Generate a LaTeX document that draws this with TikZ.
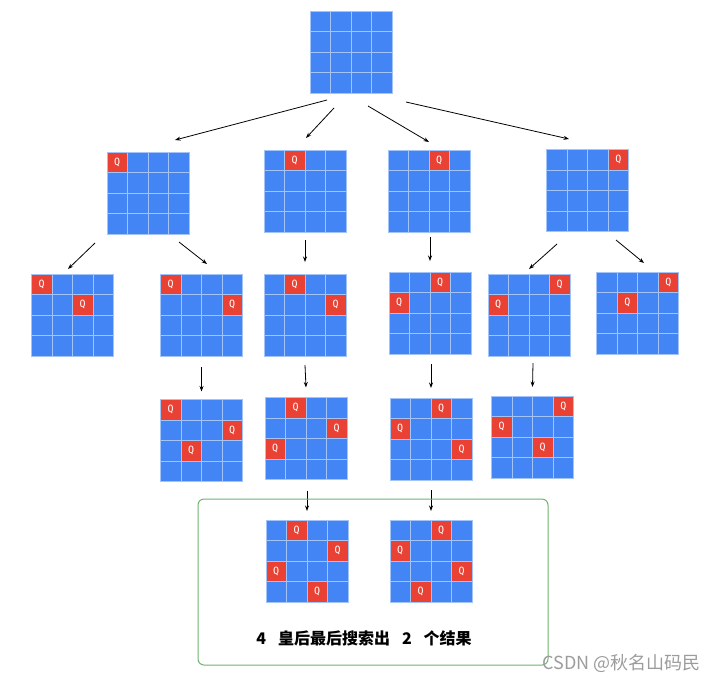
\documentclass[tikz,border=0pt]{standalone}
\usepackage{fontspec}
\setmainfont{DejaVu Sans}
\setmonofont{DejaVu Sans Mono}
\newfontfamily\cjk{Noto Sans CJK SC}
\usetikzlibrary{positioning,calc,arrows.meta}
\definecolor{qblue}{HTML}{4385F4}
\definecolor{qred}{HTML}{E94235}
\definecolor{qgrid}{HTML}{A3C4F9}
\definecolor{boxgreen}{HTML}{6DB36D}
\definecolor{wmgray}{HTML}{9C9C9C}
\def\cell{20.5}

\tikzset{
  board/.style={fill=qblue,minimum size=82pt,inner sep=0pt,outer sep=0pt},
  gridline/.style={qgrid,line width=0.8pt},
  qmark/.style={text=white,inner sep=0pt,font=\ttfamily\fontsize{10}{10}\selectfont},
  arr/.style={-{Stealth[length=5.5pt,width=4pt]},line width=0.8pt}
}

% 4x4 board: [queens as row/col] name, centre
\newcommand{\qboard}[3][]{%
  \node[board] (#2) at (#3) {};
  \ifx\relax#1\relax\else
    \foreach \qr/\qc in {#1}{
      \fill[qred] ($(#2.north west)+(\qc*\cell,\qr*\cell)$) rectangle ++(\cell,\cell);
      \node[qmark] at ($(#2.north west)+(\qc*\cell+\cell/2,\qr*\cell+\cell/2)$) {Q};
    }
  \fi
  \foreach \i in {1,2,3}{
    \draw[gridline] ($(#2.north west)+(\i*\cell,0)$) -- ++(0,82);
    \draw[gridline] ($(#2.north west)+(0,\i*\cell)$) -- ++(82,0);
  }
  \draw[gridline] (#2.north west) rectangle (#2.south east);
}

\begin{document}
\begin{tikzpicture}[x=1pt,y=-1pt]
  \useasboundingbox (0,0) rectangle (719,681);
  % root
  \qboard{root}{351,52}
  % first queen
  \qboard[0/0]{A}{148,193}
  \qboard[0/1]{B}{305,191}
  \qboard[0/2]{C}{429,191}
  \qboard[0/3]{D}{587.5,190.5}
  % second queen
  \qboard[0/0,1/2]{Aa}{72.5,315}
  \qboard[0/0,1/3]{Ab}{201.5,315}
  \qboard[0/1,1/3]{Ba}{305,315}
  \qboard[0/2,1/0]{Ca}{430,313}
  \qboard[0/3,1/0]{Da}{529,315}
  \qboard[0/3,1/1]{Db}{637.5,313}
  % third queen
  \qboard[0/0,1/3,2/1]{Abx}{201.5,440.5}
  \qboard[0/1,1/3,2/0]{Bax}{306,438.5}
  \qboard[0/2,1/0,2/3]{Cax}{431,439}
  \qboard[0/3,1/0,2/2]{Dax}{532.5,437}
  % solutions
  \qboard[0/1,1/3,2/0,3/2]{solA}{307,561}
  \qboard[0/2,1/0,2/3,3/1]{solB}{431,561}

  \draw[arr] ($(root.south)+(-24,7)$) -- ($(A.north)+(27,-12)$);
  \draw[arr] ($(root.south)+(-17,15)$) -- ($(B.north)+(1,-12)$);
  \draw[arr] ($(root.south)+(17,13)$) -- ($(C.north)+(0,-8)$);
  \draw[arr] ($(root.south)+(55,9)$) -- ($(D.north)+(-18.5,-10.5)$);
  \draw[arr] ($(A.south)+(-53,9)$) -- ($(Aa.north)+(-4.5,-5)$);
  \draw[arr] ($(A.south)+(31,8)$) -- ($(Ab.north)+(5.5,-10)$);
  \draw[arr] ($(B.south)+(0,8)$) -- ($(Ba.north)+(0,-12)$);
  \draw[arr] ($(C.south)+(1,5)$) -- ($(Ca.north)+(0,-11)$);
  \draw[arr] ($(D.south)+(-30.5,12.5)$) -- ($(Da.north)+(0,-5)$);
  \draw[arr] ($(D.south)+(28.5,8.5)$) -- ($(Db.north)+(6.5,-9)$);
  \draw[arr] ($(Ab.south)+(0,11)$) -- ($(Abx.north)+(0,-8)$);
  \draw[arr] ($(Ba.south)+(0,9)$) -- ($(Bax.north)+(0,-10)$);
  \draw[arr] ($(Ca.south)+(1,10)$) -- ($(Cax.north)+(0,-10)$);
  \draw[arr] ($(Da.south)+(4,7)$) -- ($(Dax.north)+(0,-9)$);
  \draw[arr] ($(Bax.south)+(1,11)$) -- ($(solA.north)+(0,-9)$);
  \draw[arr] ($(Cax.south)+(0,10)$) -- ($(solB.north)+(0,-9)$);

  \draw[boxgreen,line width=1pt,rounded corners=6pt] (198,499) rectangle (548,665);
  \node[font=\cjk\bfseries\fontsize{16}{16}\selectfont] (result) at (364,638)
    {4\hspace{12pt}皇后最后搜索出\hspace{12pt}2\hspace{12pt}个结果};
  \node[wmgray,anchor=east,font=\cjk\fontsize{18}{18}\selectfont] (mark) at (704,663) {CSDN @秋名山码民};
\end{tikzpicture}
\end{document}
